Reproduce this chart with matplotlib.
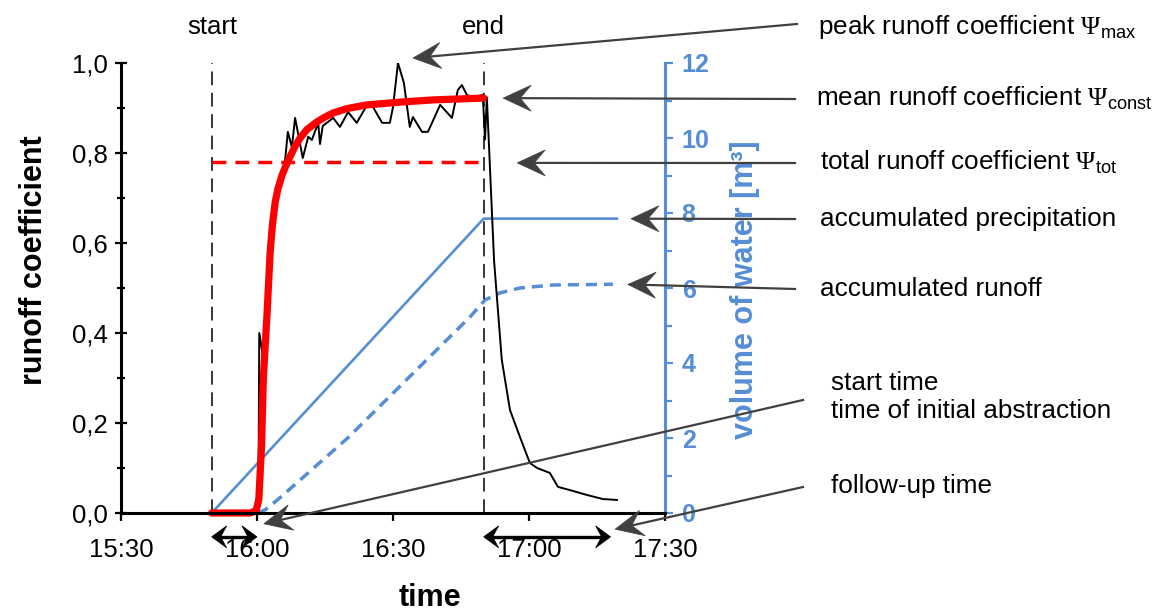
import matplotlib
matplotlib.use("Agg")
import numpy as np
import matplotlib.pyplot as plt
from matplotlib.lines import Line2D
from matplotlib.patches import Polygon
from matplotlib.transforms import IdentityTransform
from matplotlib.ticker import MultipleLocator

plt.rcParams['font.family'] = ['Liberation Sans', 'DejaVu Sans']
plt.rcParams['mathtext.fontset'] = 'custom'
plt.rcParams['mathtext.rm'] = 'Liberation Serif'
plt.rcParams['mathtext.sf'] = 'Liberation Sans'

# time axis in minutes after 15:30
tick_pos = [0, 30, 60, 90, 120]
tick_labels = ["15:30", "16:00", "16:30", "17:00", "17:30"]

t_start = 20      # 15:50
t_end = 80        # 16:50
t_follow = 108    # end of follow-up time

# smoothed runoff coefficient (red)
smooth_t = [20, 28.5, 29.8, 30.4, 31.0, 31.4, 32.2, 32.9, 33.4, 34.0, 34.6,
            35.5, 36.3, 37.2, 38.4, 39.5, 41.0, 43.2, 45.0, 46.8, 50.0, 54.3,
            61.5, 68.8, 80]
smooth_psi = [0, 0, 0.005, 0.03, 0.15, 0.30, 0.44, 0.58, 0.64, 0.69, 0.72,
              0.75, 0.77, 0.79, 0.815, 0.833, 0.852, 0.869, 0.88, 0.889, 0.899,
              0.907, 0.913, 0.918, 0.922]
psi_tot = 0.78

# measured runoff coefficient (black)
meas_t = [20, 30.3, 30.5, 31.6, 34.0, 36.2, 36.8, 37.7, 38.4, 40.1, 41.3, 42.1,
          43.5, 43.9, 44.5, 46.8, 48.3, 50.1, 52.0, 54.3, 55.6, 57.6, 59.3,
          60.0, 61.1, 62.4, 63.7, 64.4, 66.4, 67.7, 70.4, 73.0, 74.3, 75.2,
          76.3, 77.6, 79.8, 80.3, 80.7, 82.3, 84.0, 85.8, 88.0, 90.2, 91.8,
          94.6, 96.4, 99.0, 102.8, 106.3, 109.4]
meas_psi = [0, 0, 0.40, 0.33, 0.68, 0.784, 0.847, 0.813, 0.878, 0.789, 0.836,
            0.829, 0.867, 0.82, 0.86, 0.878, 0.858, 0.891, 0.867, 0.907, 0.902,
            0.867, 0.867, 0.902, 1.0, 0.956, 0.858, 0.88, 0.847, 0.847, 0.907,
            0.878, 0.94, 0.951, 0.929, 0.924, 0.929, 0.83, 0.924, 0.56, 0.34,
            0.229, 0.169, 0.111, 0.10, 0.089, 0.058, 0.051, 0.04, 0.031, 0.029]

# accumulated precipitation [m3]
prec_t = [20, 80, 109.4]
prec_vol = [0, 7.85, 7.85]

# accumulated runoff [m3]
run_t = [30.2, 32, 35, 50, 77, 80.3, 83.6, 88, 95.3, 108.5]
run_vol = [0, 0.1, 0.4, 2.0, 5.23, 5.68, 5.87, 6.0, 6.08, 6.1]

blue = '#558ED5'
grey = '#404040'
W, H = 1169, 615

fig = plt.figure(figsize=(W / 100, H / 100), dpi=100)
ax = fig.add_axes([121 / W, 102 / H, 544 / W, 450 / H])
ax2 = ax.twinx()
ax.set_zorder(ax2.get_zorder() + 1)
ax.patch.set_visible(False)

# volumes on the right axis
ax2.plot(prec_t, prec_vol, color=blue, lw=1.9)
ax2.plot(run_t, run_vol, color=blue, lw=2.5, dashes=(3.2, 2.0))
ax2.set_ylim(0, 12)

# runoff coefficients on the left axis
ax.axvline(t_start, 0, 1, color='black', lw=1.1, dashes=(9, 5))
ax.axvline(t_end, 0, 1, color='black', lw=1.1, dashes=(9, 5))
ax.hlines(psi_tot, t_start, t_end, color='red', lw=2.5, linestyles=(0, (4, 2.6)))
ax.plot(meas_t, meas_psi, color='black', lw=1.4)
ax.plot(smooth_t, smooth_psi, color='red', lw=5.2, solid_capstyle='round',
        solid_joinstyle='round', clip_on=False)

ax.set_xlim(0, 120)
ax.set_ylim(0, 1)
ax.set_xticks(tick_pos)
ax.set_xticklabels(tick_labels)
ax.yaxis.set_major_locator(MultipleLocator(0.2))
ax.yaxis.set_minor_locator(MultipleLocator(0.1))
ax.yaxis.set_major_formatter(lambda v, p: f"{v:.1f}".replace('.', ','))

for s in ['top', 'right']:
    ax.spines[s].set_visible(False)
for s in ['left', 'bottom']:
    ax.spines[s].set_linewidth(2.2)
ax.tick_params(axis='x', direction='out', length=6, width=1.6, labelsize=18.5, pad=12)
ax.tick_params(axis='y', which='major', direction='inout', length=9, width=1.6,
               labelsize=18.5, pad=5)
ax.tick_params(axis='y', which='minor', direction='inout', length=6, width=1.6)

for s in ['top', 'left', 'bottom']:
    ax2.spines[s].set_visible(False)
ax2.spines['right'].set_color(blue)
ax2.spines['right'].set_linewidth(2.2)
ax2.yaxis.set_major_locator(MultipleLocator(2))
ax2.yaxis.set_minor_locator(MultipleLocator(1))
ax2.tick_params(axis='y', which='both', colors=blue, direction='out', width=1.6)
ax2.tick_params(axis='y', which='major', length=6, labelsize=18, pad=6)
ax2.tick_params(axis='y', which='minor', length=5)
for lab in ax2.get_yticklabels():
    lab.set_fontweight('bold')

# axis titles
fig.text(34 / W, 1 - 260 / H, 'runoff coefficient', rotation=90, fontsize=22,
         fontweight='bold', ha='center', va='center')
fig.text(745 / W, 1 - 290 / H, 'volume of water [m³]', rotation=90, fontsize=22,
         fontweight='bold', color=blue, ha='center', va='center')
fig.text(430 / W, 1 - 598 / H, 'time', fontsize=22, fontweight='bold',
         ha='center', va='center')
fig.text(212 / W, 1 - 34 / H, 'start', fontsize=18.5, ha='center', va='baseline')
fig.text(483 / W, 1 - 34 / H, 'end', fontsize=18.5, ha='center', va='baseline')


def px(xy):
    # data point -> figure pixels (origin bottom left)
    return np.asarray(ax.transData.transform(xy), dtype=float)


def head(tip, d, length, half, notch, color):
    # chevron shaped arrow head, d = unit direction of the arrow
    n = np.array([-d[1], d[0]])
    back = tip - d * length
    pts = [tip, back + n * half, tip - d * notch, back - n * half]
    fig.add_artist(Polygon(pts, closed=True, facecolor=color, edgecolor=color,
                           lw=0.5, transform=IdentityTransform(), zorder=10))


def arrow(p0, p1, color, lw, length, half, notch, both=False):
    d = (p1 - p0) / np.hypot(*(p1 - p0))
    a = p0 + d * notch if both else p0
    b = p1 - d * notch
    fig.add_artist(Line2D([a[0], b[0]], [a[1], b[1]], color=color, lw=lw,
                          transform=IdentityTransform(), zorder=10))
    head(p1, d, length, half, notch, color)
    if both:
        head(p0, -d, length, half, notch, color)


# explanations with arrows: text, text left / baseline (px), line start (px), arrow tip (data)
notes = [
    (r'peak runoff coefficient $\Psi_{\mathsf{max}}$', (818, 34), (797, 24), (64.4, 1.011)),
    (r'mean runoff coefficient $\Psi_{\mathsf{const}}$', (816, 106), (795, 99), (84.3, 0.922)),
    (r'total runoff coefficient $\Psi_{\mathsf{tot}}$', (820, 169), (795, 163), (87.4, 0.778)),
    ('accumulated precipitation', (820, 226), (795, 219), (112.5, 0.654)),
    ('accumulated runoff', (820, 296), (795, 289), (111.8, 0.508)),
    ('start time\ntime of initial abstraction', (831, 390), (803, 400), (31.5, -0.024)),
    ('follow-up time', (831, 493), (803, 487), (109.0, -0.036)),
]
for txt, (tx, ty), (lx, ly), tip in notes:
    for i, line in enumerate(txt.split('\n')):
        fig.text(tx / W, 1 - (ty + i * 28) / H, line, fontsize=18.8, ha='left', va='baseline')
    arrow(np.array([lx, H - ly], dtype=float), px(tip), grey, 1.6, 28, 13, 17)

# durations below the axis
for a, b in [(t_start, 30), (t_end, t_follow)]:
    arrow(px((a, -0.053)), px((b, -0.053)), 'black', 2.4, 15, 11, 9, both=True)

fig.savefig('out.png', dpi=100)
